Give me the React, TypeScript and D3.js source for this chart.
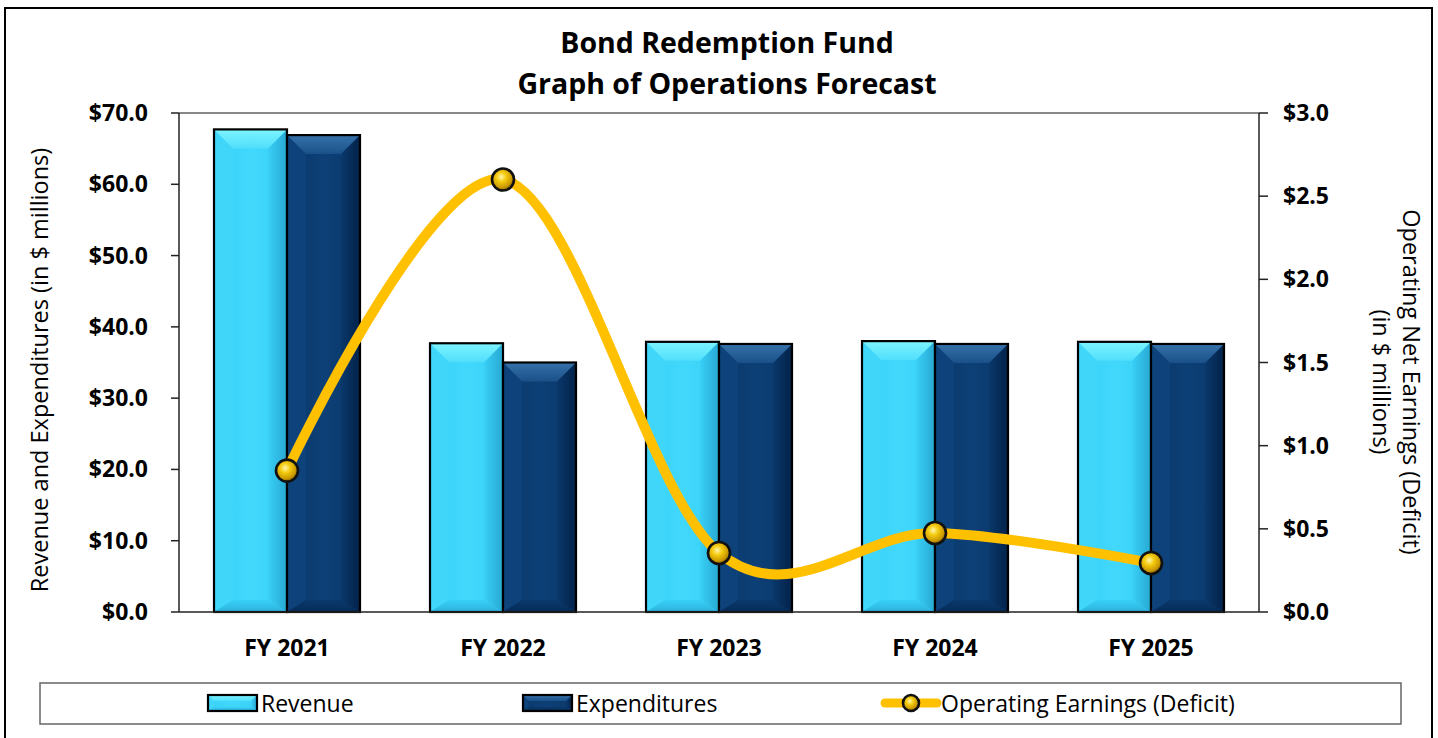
import React from 'react';
import * as d3 from 'd3';

const categories = ['FY 2021', 'FY 2022', 'FY 2023', 'FY 2024', 'FY 2025'];
const revenue = [67.7, 37.7, 37.9, 38.0, 37.9];
const expenditures = [66.9, 35.0, 37.6, 37.6, 37.6];
const operating = [0.85, 2.6, 0.355, 0.475, 0.295];
const leftTicks = [0, 10, 20, 30, 40, 50, 60, 70];
const rightTicks = [0, 0.5, 1, 1.5, 2, 2.5, 3];
const seriesNames = ['Revenue', 'Expenditures', 'Operating Earnings (Deficit)'];

const W = 1438, H = 738;
const PL = 179, PR = 1259, PT = 113, PB = 612;
const FONT = '"Open Sans", sans-serif';

type Pal = { key: string; face: string; faceHi: string; top: string; topEnd: string; left: string; right: string; bottom: string };
const revPal: Pal = { key: 'rev', face: '#38D0F7', faceHi: '#42D8FC', top: '#7CF4FF', topEnd: '#50DEFB', left: '#40D6FA', right: '#28A8D2', bottom: '#2CB2DC' };
const expPal: Pal = { key: 'exp', face: '#0A386B', faceHi: '#0D4076', top: '#3672AA', topEnd: '#1A5088', left: '#0E427A', right: '#03224A', bottom: '#062C58' };

function PalDefs({ pal }: { pal: Pal }) {
  return (
    <>
      <linearGradient id={`${pal.key}-face`} x1="0" x2="1" y1="0" y2="0">
        <stop offset="0" stopColor={pal.face} />
        <stop offset="0.5" stopColor={pal.faceHi} />
        <stop offset="1" stopColor={pal.face} />
      </linearGradient>
      <linearGradient id={`${pal.key}-top`} x1="0" x2="0" y1="0" y2="1">
        <stop offset="0" stopColor={pal.top} />
        <stop offset="1" stopColor={pal.topEnd} />
      </linearGradient>
      <linearGradient id={`${pal.key}-right`} x1="0" x2="1" y1="0" y2="0">
        <stop offset="0" stopColor={pal.face} />
        <stop offset="1" stopColor={pal.right} />
      </linearGradient>
      <linearGradient id={`${pal.key}-bottom`} x1="0" x2="0" y1="0" y2="1">
        <stop offset="0" stopColor={pal.face} />
        <stop offset="1" stopColor={pal.bottom} />
      </linearGradient>
    </>
  );
}

function Bevel({ x, y, w, h, pal, b, bs }: { x: number; y: number; w: number; h: number; pal: Pal; b: number; bs?: number }) {
  const x1 = x + w, y1 = y + h;
  const bt = Math.min(b, w / 2, h / 2);
  const bsd = Math.min(bs ?? b * 0.6, w / 2, h / 2);
  const p = (pts: number[][]) => pts.map(q => q.join(',')).join(' ');
  return (
    <g>
      <rect x={x} y={y} width={w} height={h} fill={`url(#${pal.key}-face)`} />
      <polygon points={p([[x, y], [x + bt, y + bt], [x + bt, y1 - bsd], [x, y1]])} fill={pal.left} />
      <polygon points={p([[x1, y], [x1 - bt, y + bt], [x1 - bt, y1 - bsd], [x1, y1]])} fill={`url(#${pal.key}-right)`} />
      <polygon points={p([[x, y1], [x + bt, y1 - bsd], [x1 - bt, y1 - bsd], [x1, y1]])} fill={`url(#${pal.key}-bottom)`} />
      <polygon points={p([[x, y], [x1, y], [x1 - bt, y + bt], [x + bt, y + bt]])} fill={`url(#${pal.key}-top)`} />
      <rect x={x} y={y} width={w} height={h} fill="none" stroke="#000" strokeWidth={2.2} />
    </g>
  );
}

function Marker({ cx, cy, r }: { cx: number; cy: number; r: number }) {
  return <circle cx={cx} cy={cy} r={r} fill="url(#ballGrad)" stroke="#111" strokeWidth={2.6} />;
}

export default function App() {
  const x = d3.scaleBand<string>().domain(categories).range([PL, PR]).paddingInner(70 / 216).paddingOuter(35 / 216);
  const yL = d3.scaleLinear().domain([0, 70]).range([PB, PT]);
  const yR = d3.scaleLinear().domain([0, 3]).range([PB, PT]);
  const bw = x.bandwidth() / 2;
  const cx = (c: string) => (x(c) as number) + x.bandwidth() / 2;
  const line = d3.line<number>().x((_, i) => cx(categories[i])).y(d => yR(d)).curve(d3.curveCardinal.tension(0));

  return (
    <svg width={W} height={H} style={{ position: 'absolute', left: 0, top: 0 }} fontFamily={FONT}>
      <defs>
        <radialGradient id="ballGrad" cx="0.42" cy="0.38" r="0.62">
          <stop offset="0" stopColor="#FFF6B0" />
          <stop offset="0.35" stopColor="#F5CC10" />
          <stop offset="0.8" stopColor="#C89600" />
          <stop offset="1" stopColor="#7A5A00" />
        </radialGradient>
        <PalDefs pal={revPal} />
        <PalDefs pal={expPal} />
      </defs>
      <rect x={0} y={0} width={W} height={H} fill="#fff" />
      <rect x={5} y={8} width={1427} height={740} fill="none" stroke="#000" strokeWidth={2} />

      <text x={727} y={53} textAnchor="middle" fontWeight="bold" fontSize={28.5}>Bond Redemption Fund</text>
      <text x={727} y={94} textAnchor="middle" fontWeight="bold" fontSize={28.5}>Graph of Operations Forecast</text>

      {/* plot frame */}
      <line x1={PL} x2={PR} y1={PT} y2={PT} stroke="#888" strokeWidth={2} />

      {/* bars */}
      {categories.map((c, i) => (
        <g key={c}>
          <Bevel x={x(c) as number} y={yL(revenue[i])} w={bw} h={PB - yL(revenue[i])} pal={revPal} b={19} bs={12} />
          <Bevel x={(x(c) as number) + bw} y={yL(expenditures[i])} w={bw} h={PB - yL(expenditures[i])} pal={expPal} b={19} bs={12} />
        </g>
      ))}

      {/* axes */}
      <line x1={PL} x2={PL} y1={PT} y2={PB} stroke="#222" strokeWidth={1.5} />
      <line x1={PR} x2={PR} y1={PT} y2={PB} stroke="#222" strokeWidth={1.5} />
      <line x1={PL} x2={PR} y1={PB} y2={PB} stroke="#222" strokeWidth={1.5} />
      {leftTicks.map(t => (
        <g key={'l' + t}>
          <line x1={PL - 8} x2={PL} y1={yL(t)} y2={yL(t)} stroke="#222" strokeWidth={1.5} />
          <text x={148} y={yL(t)} dy="0.35em" textAnchor="end" fontWeight="bold" fontSize={23}>{d3.format('$.1f')(t)}</text>
        </g>
      ))}
      {rightTicks.map(t => (
        <g key={'r' + t}>
          <line x1={PR} x2={PR + 9} y1={yR(t)} y2={yR(t)} stroke="#222" strokeWidth={1.5} />
          <text x={1283} y={yR(t)} dy="0.35em" textAnchor="start" fontWeight="bold" fontSize={23}>{d3.format('$.1f')(t)}</text>
        </g>
      ))}
      {categories.map(c => (
        <text key={'x' + c} x={cx(c)} y={656} textAnchor="middle" fontWeight="bold" fontSize={23}>{c}</text>
      ))}

      <text transform={`translate(48,370) rotate(-90)`} textAnchor="middle" fontSize={23.5}>Revenue and Expenditures (in $ millions)</text>
      <text transform={`translate(1403,382) rotate(90)`} textAnchor="middle" fontSize={23.5}>Operating Net Earnings (Deficit)</text>
      <text transform={`translate(1373,382) rotate(90)`} textAnchor="middle" fontSize={23.5}>(in $ millions)</text>

      {/* line */}
      <path d={line(operating) as string} fill="none" stroke="#FFC000" strokeWidth={10} strokeLinecap="round" />
      {operating.map((v, i) => (
        <Marker key={'m' + i} cx={cx(categories[i])} cy={yR(v)} r={11} />
      ))}

      {/* legend */}
      <rect x={40} y={683} width={1361} height={41} fill="#fff" stroke="#666" strokeWidth={1.5} />
      <Bevel x={208} y={695} w={49} h={16} pal={revPal} b={6} bs={4} />
      <text x={261} y={712} fontSize={23}>{seriesNames[0]}</text>
      <Bevel x={523} y={695} w={49} h={16} pal={expPal} b={6} bs={4} />
      <text x={576} y={712} fontSize={23}>{seriesNames[1]}</text>
      <line x1={885} x2={937} y1={703} y2={703} stroke="#FFC000" strokeWidth={9} strokeLinecap="round" />
      <Marker cx={911} cy={703} r={8} />
      <text x={941} y={712} fontSize={23}>{seriesNames[2]}</text>
    </svg>
  );
}
